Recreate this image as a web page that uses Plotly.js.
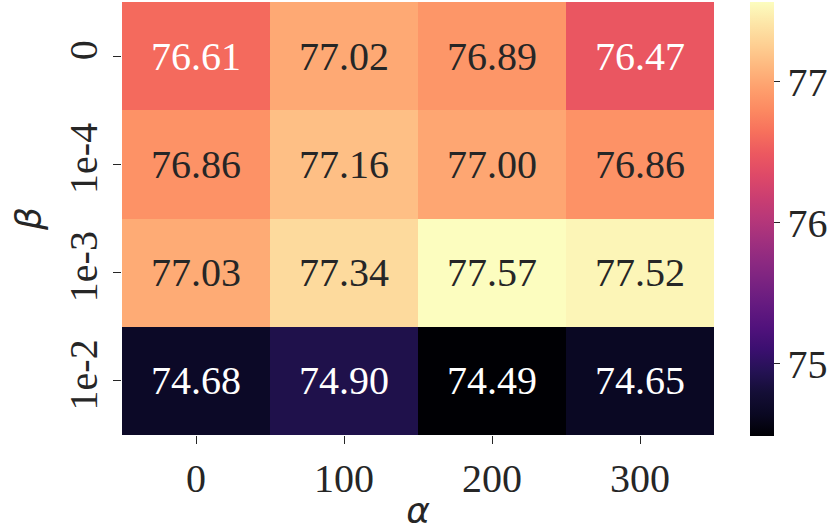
<!DOCTYPE html>
<html><head><meta charset="utf-8">
<script src="https://cdn.plot.ly/plotly-3.0.1.min.js"></script>
</head><body style="margin:0"><div id="chart"></div>
<script>
const alphaLabels = ['0', '100', '200', '300'];
const betaLabels = ['0', '1e-4', '1e-3', '1e-2'];
const row0 = [76.61, 77.02, 76.89, 76.47];
const row1e4 = [76.86, 77.16, 77.00, 76.86];
const row1e3 = [77.03, 77.34, 77.57, 77.52];
const row1e2 = [74.68, 74.90, 74.49, 74.65];
const values = [row0, row1e4, row1e3, row1e2];
const colorbarTicks = [75, 76, 77];

const magma = [
 [0.00,'#000004'],[0.05,'#0a0822'],[0.10,'#140e36'],[0.15,'#251255'],[0.20,'#3b0f70'],
 [0.25,'#51127c'],[0.30,'#641a80'],[0.35,'#782281'],[0.40,'#8c2981'],[0.45,'#a1307e'],
 [0.50,'#b73779'],[0.55,'#cb3e71'],[0.60,'#de4968'],[0.65,'#ec5860'],[0.70,'#f7705c'],
 [0.75,'#fc8961'],[0.80,'#fe9f6d'],[0.85,'#feb77e'],[0.90,'#fecf92'],[0.95,'#fde5a7'],
 [1.00,'#fcfdbf']
];
const flat = values.flat();
const zmin = Math.min(...flat), zmax = Math.max(...flat);
const xIdx = alphaLabels.map((_, i) => i);
const yIdx = betaLabels.map((_, i) => i);

const annotations = [];
values.forEach((row, i) => row.forEach((v, j) => {
  const frac = (v - zmin) / (zmax - zmin);
  annotations.push({x: xIdx[j], y: yIdx[i], xref: 'x', yref: 'y', text: v.toFixed(2), showarrow: false,
    font: {family: 'Times New Roman', size: 40, color: frac < 0.72 ? '#ffffff' : '#262626'}});
}));

const trace = {
  type: 'heatmap', x: xIdx, y: yIdx, z: values,
  colorscale: magma, zmin: zmin, zmax: zmax, xgap: 0, ygap: 0, hoverinfo: 'none',
  colorbar: {
    thickness: 24, thicknessmode: 'pixels', len: 1.002, lenmode: 'fraction',
    x: (750 - 122) / 592, xanchor: 'left', xpad: 0, y: 0.5, yanchor: 'middle', ypad: 0,
    outlinewidth: 0, tickvals: colorbarTicks, ticktext: colorbarTicks.map(String),
    ticks: 'outside', ticklen: 6, tickwidth: 1, tickcolor: '#262626',
    tickfont: {family: 'Times New Roman', size: 40, color: '#262626'}
  }
};

const layout = {
  width: 833, height: 531,
  font: {family: 'Times New Roman', size: 40, color: '#262626'},
  margin: {l: 122, r: 119, t: 2, b: 96},
  paper_bgcolor: '#ffffff', plot_bgcolor: '#ffffff',
  xaxis: {range: [-0.5, 3.5], showgrid: false, zeroline: false, showline: false,
    tickvals: xIdx, ticktext: alphaLabels,
    ticks: 'outside', ticklen: 8, tickwidth: 1, tickcolor: '#262626',
    tickfont: {family: 'Times New Roman', size: 40, color: '#262626'},
    title: {text: 'α', standoff: 4, font: {family: 'DejaVu Sans', size: 36, style: 'italic', color: '#262626'}}},
  yaxis: {range: [3.5, -0.5], showgrid: false, zeroline: false, showline: false,
    tickvals: yIdx, ticktext: betaLabels,
    ticks: 'outside', ticklen: 8, tickwidth: 1, tickcolor: '#262626', tickangle: -90,
    tickfont: {family: 'Times New Roman', size: 40, color: '#262626'},
    title: {text: 'β', standoff: 8, font: {family: 'DejaVu Sans', size: 36, style: 'italic', color: '#262626'}}},
  annotations: annotations
};
Plotly.newPlot('chart', [trace], layout, {displayModeBar: false, staticPlot: true});
</script></body></html>
